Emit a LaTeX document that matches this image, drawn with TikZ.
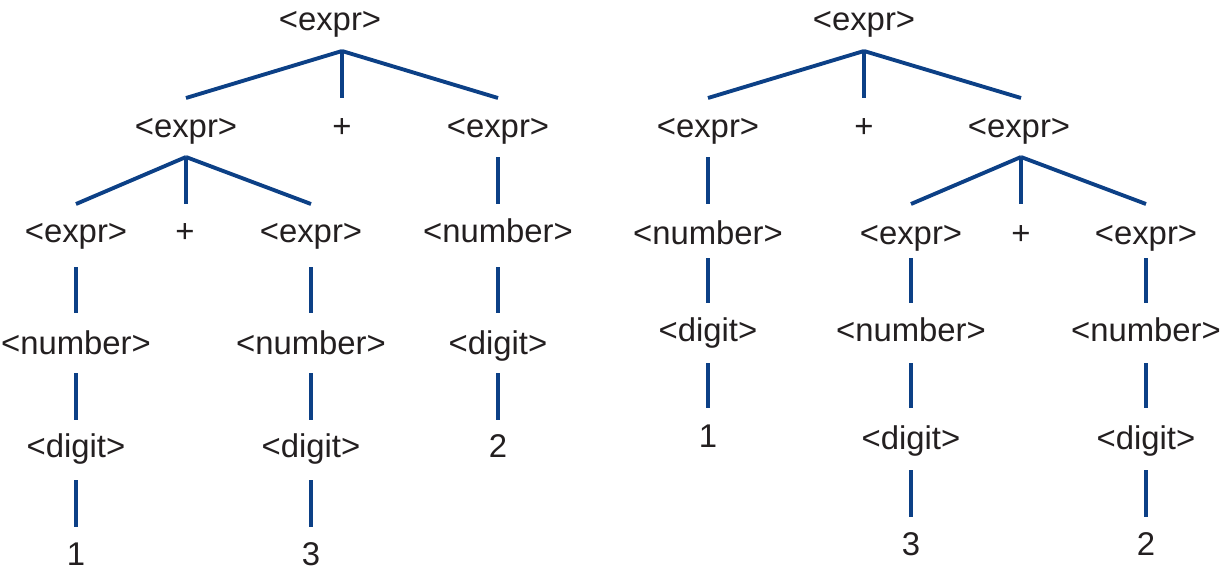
\documentclass[tikz,border=0pt]{standalone}
\usepackage{fontspec}
\setmainfont{Liberation Sans}
\usetikzlibrary{calc}
\definecolor{edgeblue}{RGB}{12,64,134}
\definecolor{inkc}{RGB}{35,31,32}
\begin{document}
\begin{tikzpicture}[x=0.02cm,y=-0.02cm,
  lbl/.style={anchor=base,inner sep=0pt,text=inkc,font=\fontsize{18.7}{22}\selectfont},
  link/.style={draw=edgeblue,line width=2.2pt}]
\useasboundingbox (0,0) rectangle (1221,572);
% ---------- left tree ----------
\node[lbl] (A)   at (330,30)  {<expr>};
\node[lbl] (A1)  at (186,137) {<expr>};
\node[lbl] (A2)  at (342,137) {+};
\node[lbl] (A3)  at (498,137) {<expr>};
\node[lbl] (A11) at (76,242)  {<expr>};
\node[lbl] (A12) at (185,242) {+};
\node[lbl] (A13) at (311,242) {<expr>};
\node[lbl] (A31) at (498,242) {<number>};
\node[lbl] (A111) at (76,354) {<number>};
\node[lbl] (A131) at (311,354) {<number>};
\node[lbl] (A311) at (498,354) {<digit>};
\node[lbl] (A1111) at (76,457) {<digit>};
\node[lbl] (A1311) at (311,457) {<digit>};
\node[lbl] (A3111) at (498,457) {2};
\node[lbl] (A11111) at (76,565) {1};
\node[lbl] (A13111) at (311,565) {3};
\coordinate (Aap) at ($(A.base)+(12,21)$);
\draw[link] (Aap) -- ($(A1.base)+(0,-39)$);
\draw[link] (Aap) -- ($(A2.base)+(0,-39)$);
\draw[link] (Aap) -- ($(A3.base)+(0,-39)$);
\coordinate (A1ap) at ($(A1.base)+(0,20)$);
\draw[link] (A1ap) -- ($(A11.base)+(0,-38)$);
\draw[link] (A1ap) -- ($(A12.base)+(1,-38)$);
\draw[link] (A1ap) -- ($(A13.base)+(0,-38)$);
\draw[link] ($(A3.base)+(0,20)$) -- ($(A31.base)+(0,-38)$);
\draw[link] ($(A11.base)+(0,25)$) -- ($(A111.base)+(0,-41)$);
\draw[link] ($(A13.base)+(0,25)$) -- ($(A131.base)+(0,-41)$);
\draw[link] ($(A31.base)+(0,25)$) -- ($(A311.base)+(0,-41)$);
\draw[link] ($(A111.base)+(0,19)$) -- ($(A1111.base)+(0,-37)$);
\draw[link] ($(A131.base)+(0,19)$) -- ($(A1311.base)+(0,-37)$);
\draw[link] ($(A311.base)+(0,19)$) -- ($(A3111.base)+(0,-37)$);
\draw[link] ($(A1111.base)+(0,23)$) -- ($(A11111.base)+(0,-38)$);
\draw[link] ($(A1311.base)+(0,23)$) -- ($(A13111.base)+(0,-38)$);
% ---------- right tree ----------
\node[lbl] (B)   at (864,30)  {<expr>};
\node[lbl] (B1)  at (708,137) {<expr>};
\node[lbl] (B2)  at (864,137) {+};
\node[lbl] (B3)  at (1019,137) {<expr>};
\node[lbl] (B11) at (708,244) {<number>};
\node[lbl] (B31) at (911,244) {<expr>};
\node[lbl] (B32) at (1021,244) {+};
\node[lbl] (B33) at (1146,244) {<expr>};
\node[lbl] (B111) at (708,341) {<digit>};
\node[lbl] (B311) at (911,341) {<number>};
\node[lbl] (B331) at (1146,341) {<number>};
\node[lbl] (B1111) at (708,447) {1};
\node[lbl] (B3111) at (911,449) {<digit>};
\node[lbl] (B3311) at (1146,449) {<digit>};
\node[lbl] (B31111) at (911,555) {3};
\node[lbl] (B33111) at (1146,555) {2};
\coordinate (Bap) at ($(B.base)+(0,21)$);
\draw[link] (Bap) -- ($(B1.base)+(0,-39)$);
\draw[link] (Bap) -- ($(B2.base)+(0,-39)$);
\draw[link] (Bap) -- ($(B3.base)+(2,-39)$);
\coordinate (B3ap) at ($(B3.base)+(2,20)$);
\draw[link] (B3ap) -- ($(B31.base)+(0,-40)$);
\draw[link] (B3ap) -- ($(B32.base)+(0,-40)$);
\draw[link] (B3ap) -- ($(B33.base)+(0,-40)$);
\draw[link] ($(B1.base)+(0,20)$) -- ($(B11.base)+(0,-40)$);
\draw[link] ($(B11.base)+(0,14)$) -- ($(B111.base)+(0,-38)$);
\draw[link] ($(B31.base)+(0,14)$) -- ($(B311.base)+(0,-38)$);
\draw[link] ($(B33.base)+(0,14)$) -- ($(B331.base)+(0,-38)$);
\draw[link] ($(B111.base)+(0,22)$) -- ($(B1111.base)+(0,-39)$);
\draw[link] ($(B311.base)+(0,22)$) -- ($(B3111.base)+(0,-41)$);
\draw[link] ($(B331.base)+(0,22)$) -- ($(B3311.base)+(0,-41)$);
\draw[link] ($(B3111.base)+(0,21)$) -- ($(B31111.base)+(0,-38)$);
\draw[link] ($(B3311.base)+(0,21)$) -- ($(B33111.base)+(0,-38)$);
\end{tikzpicture}
\end{document}
